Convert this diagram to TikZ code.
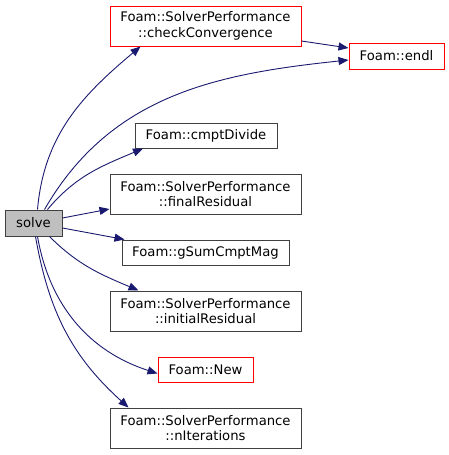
\documentclass[tikz,border=0pt]{standalone}
\usepackage{fontspec}
\setmainfont{DejaVu Sans}
\usepackage{tikz}
\usetikzlibrary{arrows.meta}
\definecolor{edgeblue}{HTML}{191970}
\definecolor{boxline}{HTML}{404040}
\definecolor{solvefill}{HTML}{BFBFBF}
\colorlet{redline}{red}

\begin{document}
\begin{tikzpicture}[x=1pt,y=-1pt,>={Triangle[length=10pt,width=8pt]},
  fn/.style={draw=boxline,fill=white,inner sep=0pt,align=center,font=\fontsize{13.2}{15.5}\selectfont,line width=1pt},
  fnred/.style={fn,draw=redline},
  call/.style={->,edgeblue,line width=0.9pt}]
\useasboundingbox (0,0) rectangle (449,455);
% nodes
\node[fn,fill=solvefill,minimum width=57pt,minimum height=26pt] (solve) at (33.5,223) {solve};
\node[fnred,minimum width=191pt,minimum height=40pt] (chk) at (205.5,26) {Foam::SolverPerformance\\::checkConvergence};
\node[fnred,minimum width=95pt,minimum height=26pt] (endl) at (396.5,56) {Foam::endl};
\node[fn,minimum width=142pt,minimum height=25pt] (cdiv) at (206,135.5) {Foam::cmptDivide};
\node[fn,minimum width=191pt,minimum height=40pt] (fres) at (205.5,194) {Foam::SolverPerformance\\::finalResidual};
\node[fn,minimum width=167pt,minimum height=25pt] (gsum) at (205.5,252.5) {Foam::gSumCmptMag};
\node[fn,minimum width=191pt,minimum height=40pt] (ires) at (205.5,311) {Foam::SolverPerformance\\::initialResidual};
\node[fnred,minimum width=95pt,minimum height=25pt] (new) at (205.5,369.5) {Foam::New};
\node[fn,minimum width=191pt,minimum height=40pt] (nit) at (205.5,428) {Foam::SolverPerformance\\::nIterations};
% calls
\draw[call] ([xshift=4pt]solve.north) to[out=85,in=220] ([xshift=-65pt]chk.south);
\draw[call] ([xshift=11pt]solve.north) to[out=60,in=186] ([yshift=-4pt]endl.west);
\draw[call] ([yshift=-15pt]chk.east) -- ([yshift=8pt]endl.west);
\draw[call] ([xshift=14pt]solve.north) to[out=50,in=203] ([xshift=-63pt]cdiv.south);
\draw[call] ([yshift=5pt]solve.east) -- ([yshift=-15pt]fres.west);
\draw[call] ([yshift=-5pt]solve.east) -- ([xshift=3pt]gsum.north west);
\draw[call] ([xshift=16pt]solve.south) to[out=-45,in=157] ([xshift=-67pt]ires.north);
\draw[call] ([xshift=4pt]solve.south) to[out=-80,in=162] ([yshift=-4pt]new.west);
\draw[call] ([xshift=2pt]solve.south) to[out=-80,in=138] ([xshift=-77pt]nit.north);
\end{tikzpicture}
\end{document}
